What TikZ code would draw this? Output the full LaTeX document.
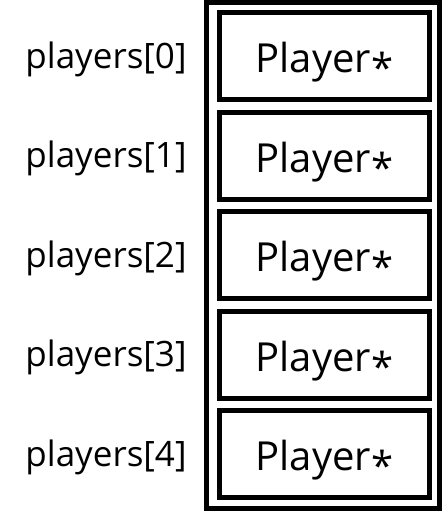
\documentclass[tikz,border=0pt]{standalone}
\usepackage{fontspec}
\setmainfont{Open Sans}
\usepackage{tikz}

\begin{document}
\begin{tikzpicture}[x=0.5pt,y=-0.5pt,
        casella/.style={draw,line width=2.5pt,minimum width=105pt,minimum height=43.5pt,
                        inner sep=0pt,text height=16.5pt,text depth=0pt,
                        font=\fontsize{20}{24}\selectfont},
        etiqueta/.style={anchor=base,inner sep=0pt,font=\fontsize{17.5}{21}\selectfont}]
        \useasboundingbox (0,0) rectangle (443,511);
        % Marc exterior de l'array
        \draw[line width=2.5pt] (206.5,2.5) rectangle (440,508.5);
        % Caselles i noms dels elements
        \foreach \i in {0,...,4} {
            \node[casella] (p\i) at (324.5,56+99.5*\i) {Player\raisebox{-5pt}{*}};
            \node[etiqueta] (l\i) at (106,68+99.5*\i) {players[\i]};
        }
    \end{tikzpicture}
\end{document}
